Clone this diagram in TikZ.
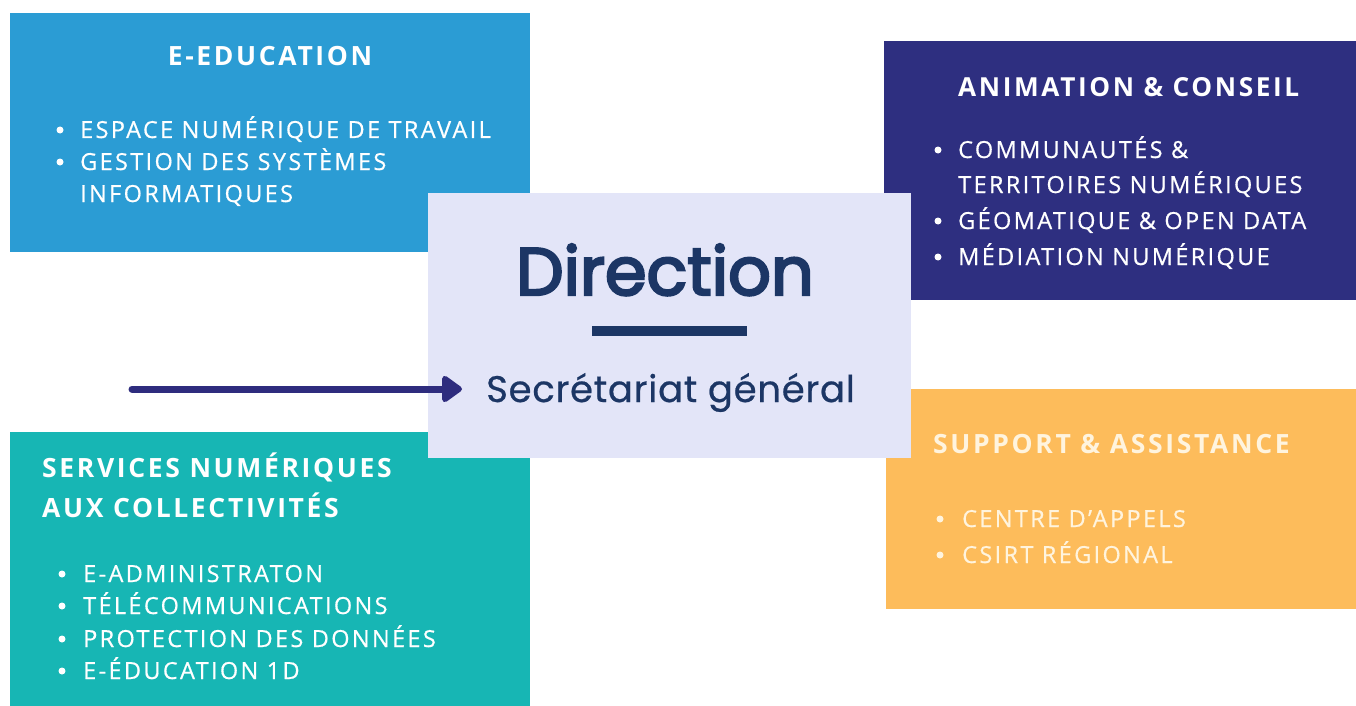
\documentclass[tikz,border=0pt]{standalone}
\usepackage{fontspec}
\setmainfont{Open Sans}
\newfontfamily\headfont[LetterSpace=10]{Open Sans}
\newfontfamily\itemfont[LetterSpace=10, FakeBold=0.6]{Open Sans}
\newfontfamily\dirfont[LetterSpace=0, FakeBold=3.5]{Poppins}
\newfontfamily\secfont[LetterSpace=2, FakeBold=0.6]{Poppins}
\usetikzlibrary{arrows.meta}
\definecolor{edublue}{HTML}{2B9CD4}
\definecolor{animnavy}{HTML}{2E2F80}
\definecolor{tealbox}{HTML}{17B6B4}
\definecolor{orangebox}{HTML}{FDBC5B}
\definecolor{centerbg}{HTML}{E3E5F8}
\definecolor{dirnavy}{HTML}{1C3665}
\definecolor{arrownavy}{HTML}{2E2C7E}
\definecolor{creamtext}{HTML}{FFF4DE}
\tikzset{
  box/.style={rectangle, inner sep=0pt, outer sep=0pt, anchor=north west},
  head/.style={inner sep=0pt, anchor=base west, font=\headfont\bfseries\fontsize{26.5}{30}\selectfont},
  itm/.style={inner sep=0pt, anchor=base west, font=\itemfont\fontsize{23.5}{26}\selectfont},
  dot/.style={circle, inner sep=0pt, minimum size=7pt},
}
\begin{document}
\begin{tikzpicture}[x=1pt, y=-1pt]
\useasboundingbox (0,0) rectangle (1356,706);
\fill[white] (0,0) rectangle (1356,706);
% boxes
\node[box, fill=edublue, minimum width=520pt, minimum height=239pt] (edu) at (10,13) {};
\node[box, fill=animnavy, minimum width=472pt, minimum height=259pt] (anim) at (884,41) {};
\node[box, fill=tealbox, minimum width=520pt, minimum height=274pt] (serv) at (10,432) {};
\node[box, fill=orangebox, minimum width=470pt, minimum height=220pt] (supp) at (886,389) {};
\node[box, fill=centerbg, minimum width=483pt, minimum height=265pt] (dir) at (428,193) {};
% E-Education
\node[head, anchor=base, white] (eduh) at (270,66) {E-EDUCATION};
\node[dot, fill=white] (edud1) at (60,130) {};
\node[itm, white] (edui1) at (80,138) {ESPACE NUMÉRIQUE DE TRAVAIL};
\node[dot, fill=white] (edud2) at (60,162) {};
\node[itm, white] (edui2) at (80,170) {GESTION DES SYSTÈMES};
\node[itm, white] (edui3) at (80,202) {INFORMATIQUES};
% Animation
\node[head, white, font=\headfont\bfseries\fontsize{26.2}{30}\selectfont] (animh) at (958,97) {ANIMATION \& CONSEIL};
\node[dot, fill=white] (animd1) at (938,150) {};
\node[itm, white] (animi1) at (958,158) {COMMUNAUTÉS \&};
\node[itm, white] (animi2) at (958,193) {TERRITOIRES NUMÉRIQUES};
\node[dot, fill=white] (animd2) at (938,221) {};
\node[itm, white] (animi3) at (958,229) {GÉOMATIQUE \& OPEN DATA};
\node[dot, fill=white] (animd3) at (938,257) {};
\node[itm, white] (animi4) at (958,265) {MÉDIATION NUMÉRIQUE};
% Services
\node[head, white] (servh1) at (42,477) {SERVICES NUMÉRIQUES};
\node[head, white] (servh2) at (42,517) {AUX COLLECTIVITÉS};
\node[dot, fill=white] (servd1) at (62,574) {};
\node[itm, white] (servi1) at (83,582) {E-ADMINISTRATON};
\node[dot, fill=white] (servd2) at (62,606) {};
\node[itm, white] (servi2) at (83,614) {TÉLÉCOMMUNICATIONS};
\node[dot, fill=white] (servd3) at (62,639) {};
\node[itm, white] (servi3) at (83,647) {PROTECTION DES DONNÉES};
\node[dot, fill=white] (servd4) at (62,671) {};
\node[itm, white] (servi4) at (83,679) {E-ÉDUCATION 1D};
% Support
\node[head, creamtext] (supph) at (933,453) {SUPPORT \& ASSISTANCE};
\node[dot, fill=creamtext] (suppd1) at (940,519) {};
\node[itm, creamtext] (suppi1) at (962,527) {CENTRE D’APPELS};
\node[dot, fill=creamtext] (suppd2) at (940,555) {};
\node[itm, creamtext] (suppi2) at (962,563) {CSIRT RÉGIONAL};
% Direction
\node[inner sep=0pt, anchor=base, text=dirnavy, font=\dirfont\fontsize{67}{70}\selectfont] (dirt) at (665,295) {Direction};
\node[rectangle, fill=dirnavy, inner sep=0pt, minimum width=155pt, minimum height=10pt] (rule) at (669.5,331) {};
\node[inner sep=0pt, anchor=base west, text=dirnavy, font=\secfont\fontsize{37}{40}\selectfont] (sec) at (486,402) {Secrétariat général};
% arrow
\coordinate (astart) at (132,389);
\draw[arrownavy, line width=7pt, line cap=round, shorten >=24pt, -{Triangle[round, length=22pt, width=30pt]}] (astart) -- (astart -| sec.west);
\end{tikzpicture}
\end{document}
